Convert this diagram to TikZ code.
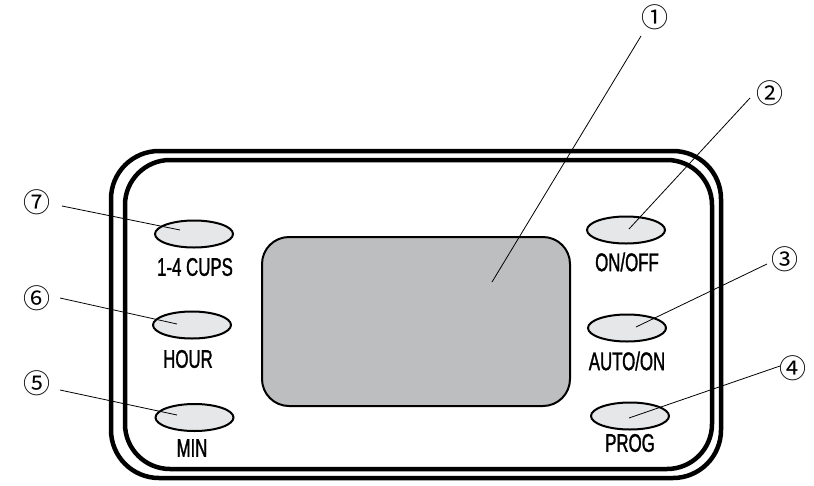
\documentclass[tikz,border=0pt]{standalone}
\usepackage{fontspec}
\setmainfont{Liberation Sans}
\newfontfamily\labfont[FakeStretch=0.66,FakeBold=1.2]{Liberation Sans}
\newfontfamily\numfont{Noto Sans CJK SC}
\usetikzlibrary{shapes.geometric}
\definecolor{btnfill}{HTML}{E6E7E8}
\definecolor{scrfill}{HTML}{BCBEC0}
\tikzset{
  frame/.style={draw=black, line width=4.5pt, rounded corners=48pt},
  screen/.style={draw=black, line width=2pt, fill=scrfill, rounded corners=27pt},
  btn/.style={ellipse, draw=black, line width=2pt, fill=btnfill, minimum width=78pt, minimum height=27pt, inner sep=0pt},
  lab/.style={font=\labfont\fontsize{25.5}{25.5}\selectfont, inner sep=0pt},
  num/.style={font=\numfont\fontsize{27}{27}\selectfont, inner sep=0pt},
  leader/.style={draw=black, line width=0.8pt}
}
\begin{document}
\begin{tikzpicture}[x=1pt,y=-1pt]
\useasboundingbox (0,0) rectangle (814,485);
% frames
\draw[frame] (111,151) rectangle (721,478);
\draw[frame, rounded corners=45pt] (125,160) rectangle (712,469);
% screen
\draw[screen] (262,237) rectangle (570,406);
\coordinate (s1) at (492,282);
% buttons
\node[btn] (b7) at (194,234) {};
\node[btn] (b6) at (192,325) {};
\node[btn] (b5) at (194.5,417.5) {};
\node[btn] (b2) at (626,230) {};
\node[btn] (b3) at (627,328) {};
\node[btn] (b4) at (630,416) {};
% button labels
\node[lab] (t7) at (195,267) {1-4 CUPS};
\node[lab] (t6) at (188,359) {HOUR};
\node[lab] (t5) at (192,448) {MIN};
\node[lab] (t2) at (627,262) {ON/OFF};
\node[lab] (t3) at (627,361) {AUTO/ON};
\node[lab] (t4) at (630,443) {PROG};
% callout numbers
\node[num] (n1) at (655,17) {①};
\node[num] (n2) at (770,93) {②};
\node[num] (n3) at (785,259) {③};
\node[num] (n4) at (793,368) {④};
\node[num] (n5) at (37,383) {⑤};
\node[num] (n6) at (37,298) {⑥};
\node[num] (n7) at (37,202) {⑦};
% leader end points
\coordinate (e2) at (629,229);
\coordinate (e3) at (636,327);
\coordinate (e4) at (629,418);
\coordinate (e5) at (177,415);
\coordinate (e6) at (177,324);
\coordinate (e7) at (180,230);
% leaders
\draw[leader] (n1) ++(-14,19) coordinate (a1) -- (s1);
\draw[leader] (n2) ++(-20,5) coordinate (a2) -- (e2);
\draw[leader] (n3) ++(-18,5) coordinate (a3) -- (e3);
\draw[leader] (n4) ++(-13,-2) coordinate (a4) -- (e4);
\draw[leader] (n5) ++(23,7) coordinate (a5) -- (e5);
\draw[leader] (n6) ++(23,0) coordinate (a6) -- (e6);
\draw[leader] (n7) ++(25,4) coordinate (a7) -- (e7);
\end{tikzpicture}
\end{document}
